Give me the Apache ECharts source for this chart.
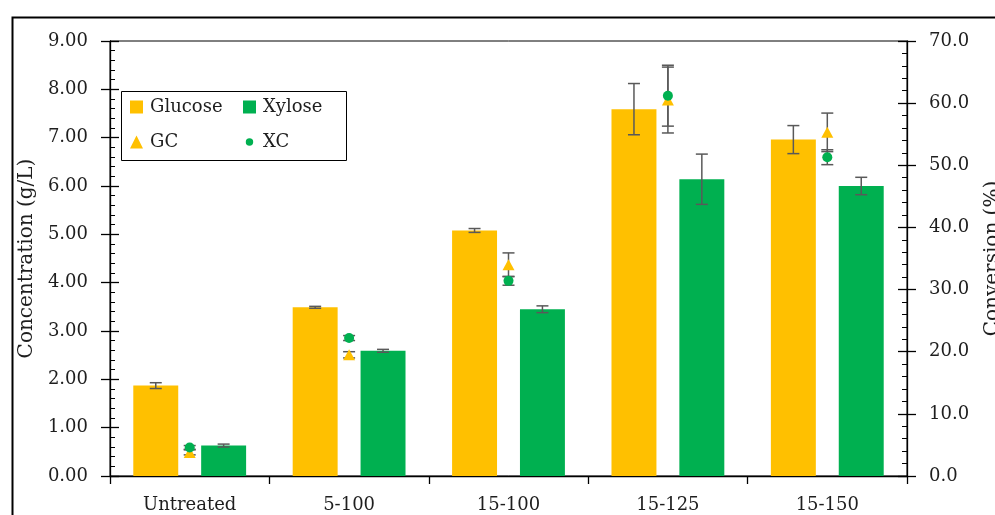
<!DOCTYPE html>
<html><head><meta charset="utf-8">
<script src="https://cdn.jsdelivr.net/npm/echarts@6/dist/echarts.min.js"></script>
<style>html,body{margin:0;padding:0;background:#fff}#c{width:995px;height:515px}</style>
</head><body><div id="c"></div>
<script>
// ---- data ----
const categories = ['Untreated', '5-100', '15-100', '15-125', '15-150'];
const glucose    = [1.87, 3.49, 5.08, 7.59, 6.96];
const glucoseErr = [0.06, 0.02, 0.04, 0.53, 0.29];
const xylose     = [0.63, 2.59, 3.45, 6.14, 6.00];
const xyloseErr  = [0.03, 0.03, 0.07, 0.52, 0.18];
const gc         = [3.8, 19.5, 34.0, 60.5, 55.3];
const gcErr      = [0.4, 0.5, 1.9, 5.3, 3.1];
const xc         = [4.6, 22.2, 31.4, 61.2, 51.3];
const xcErr      = [0.3, 0.4, 0.7, 4.9, 1.2];
const leftTicks  = [0, 1, 2, 3, 4, 5, 6, 7, 8, 9];
const rightTicks = [0, 10, 20, 30, 40, 50, 60, 70];

// ---- style ----
const FONT = 'DejaVu Serif';
const TXT = '#1e1e1e';
const YEL = '#FFC000';
const GRN = '#00B050';
const ERR = '#595959';
const BAR_W = 0.282;   // fraction of band
const BAR_GAP = 0.51;  // fraction of bar width

function errRender(sign) {
  return function (params, api) {
    const idx = api.value(0);
    const lo = api.coord([idx, api.value(1)]);
    const hi = api.coord([idx, api.value(2)]);
    const band = api.size([1, 0])[0];
    const bw = band * BAR_W;
    const x = lo[0] + sign * (bw + bw * BAR_GAP) / 2;
    const c = 6;
    const st = { stroke: ERR, lineWidth: 1.5 };
    return {
      type: 'group',
      children: [
        { type: 'line', shape: { x1: x, y1: lo[1], x2: x, y2: hi[1] }, style: st },
        { type: 'line', shape: { x1: x - c, y1: lo[1], x2: x + c, y2: lo[1] }, style: st },
        { type: 'line', shape: { x1: x - c, y1: hi[1], x2: x + c, y2: hi[1] }, style: st }
      ]
    };
  };
}
const errData = (v, e) => v.map((d, i) => [i, d - e[i], d + e[i]]);

function yAx(pos, ticks, digits, name, gap, withLabels) {
  const step = ticks[1] - ticks[0];
  const ax = {
    type: 'value', position: pos,
    min: ticks[0], max: ticks[ticks.length - 1], interval: step,
    splitLine: { show: false },
    axisLine: { show: withLabels, lineStyle: { color: '#000', width: 1.3 } },
    axisTick: { show: true, inside: withLabels, length: 9, lineStyle: { color: '#000', width: 1.3 } },
    minorTick: { show: withLabels, splitNumber: 5, length: 5, lineStyle: { color: '#000', width: 1 } },
    axisLabel: { show: withLabels, margin: 22, formatter: v => v.toFixed(digits),
      fontFamily: FONT, fontSize: 18, color: TXT }
  };
  if (withLabels) {
    ax.name = name;
    ax.nameLocation = 'middle';
    ax.nameRotate = 90;
    ax.nameGap = gap;
    ax.nameTextStyle = { fontFamily: FONT, fontSize: 20, color: TXT };
  }
  return ax;
}

const legendBase = {
  orient: 'vertical', top: 98, padding: 0,
  itemWidth: 13, itemHeight: 13, itemGap: 17,
  textStyle: { fontFamily: FONT, fontSize: 18, color: TXT, padding: [0, 0, 0, 2] }
};

const chart = echarts.init(document.getElementById('c'), null, { renderer: 'canvas' });
chart.setOption({
  animation: false,
  backgroundColor: '#fff',
  graphic: [{
    type: 'rect', left: 10, top: 15, z: -10, silent: true,
    shape: { width: 1100, height: 1000 },
    style: { fill: 'none', stroke: '#000', lineWidth: 2 }
  }, {
    type: 'rect', left: 119, top: 89, z: 50, silent: true,
    shape: { width: 225, height: 69 },
    style: { fill: 'none', stroke: '#000', lineWidth: 1 }
  }],
  grid: { left: 110, right: 88, top: 41, bottom: 39, show: true,
    outerBoundsMode: 'none', containLabel: false,
    borderColor: '#000', borderWidth: 1, backgroundColor: 'transparent' },
  legend: [
    Object.assign({}, legendBase, { left: 130,
      data: [{ name: 'Glucose', icon: 'rect' }, { name: 'GC', icon: 'triangle' }] }),
    Object.assign({}, legendBase, { left: 243,
      data: [{ name: 'Xylose', icon: 'rect' },
             { name: 'XC', icon: 'path://M0,0M14,14M7,3A4,4 0 1 1 6.99,3Z' }] })
  ],
  xAxis: {
    type: 'category', data: categories, boundaryGap: true,
    axisLine: { lineStyle: { color: '#000', width: 1.3 } },
    axisTick: { show: true, length: 8, lineStyle: { color: '#000', width: 1.3 } },
    axisLabel: { margin: 20, fontFamily: FONT, fontSize: 18, color: TXT },
    splitLine: { show: false }
  },
  yAxis: [
    yAx('left', leftTicks, 2, 'Concentration (g/L)', 61, true),
    yAx('right', rightTicks, 1, 'Conversion (%)', 76, true),
    yAx('left', leftTicks, 2, '', 0, false),
    yAx('right', rightTicks, 1, '', 0, false)
  ],
  series: [
    { name: 'Glucose', type: 'bar', yAxisIndex: 0, data: glucose,
      barWidth: (BAR_W * 100) + '%', barGap: (BAR_GAP * 100) + '%',
      itemStyle: { color: YEL }, z: 2 },
    { name: 'Xylose', type: 'bar', yAxisIndex: 0, data: xylose,
      barWidth: (BAR_W * 100) + '%', barGap: (BAR_GAP * 100) + '%',
      itemStyle: { color: GRN }, z: 2 },
    { name: 'gErr', type: 'custom', yAxisIndex: 0, renderItem: errRender(-1),
      data: errData(glucose, glucoseErr), encode: { x: 0, y: [1, 2] }, z: 3 },
    { name: 'xErr', type: 'custom', yAxisIndex: 0, renderItem: errRender(1),
      data: errData(xylose, xyloseErr), encode: { x: 0, y: [1, 2] }, z: 3 },
    { name: 'gcErr', type: 'custom', yAxisIndex: 1, renderItem: errRender(0),
      data: errData(gc, gcErr), encode: { x: 0, y: [1, 2] }, z: 3 },
    { name: 'xcErr', type: 'custom', yAxisIndex: 1, renderItem: errRender(0),
      data: errData(xc, xcErr), encode: { x: 0, y: [1, 2] }, z: 3 },
    { name: 'GC', type: 'scatter', yAxisIndex: 1, data: gc,
      symbol: 'triangle', symbolSize: [12, 11], itemStyle: { color: YEL, opacity: 1 }, z: 4 },
    { name: 'XC', type: 'scatter', yAxisIndex: 1, data: xc,
      symbol: 'circle', symbolSize: 10, itemStyle: { color: GRN, opacity: 1 }, z: 5 }
  ]
});
</script>
</body></html>
